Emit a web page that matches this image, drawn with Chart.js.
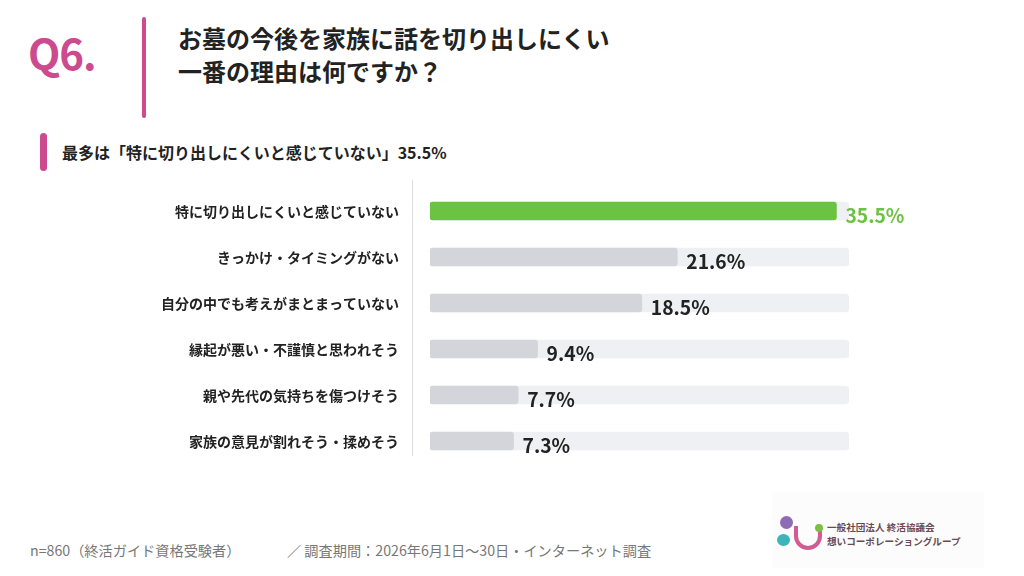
<!DOCTYPE html>
<html lang="ja">
<head>
<meta charset="UTF-8" />
<title>Q6</title>
<script src="https://cdn.jsdelivr.net/npm/chart.js"></script>
<style>
  body { margin: 0; width: 1024px; height: 576px; background: #fff; position: relative; overflow: hidden;
         font-family: "Noto Sans CJK JP", "Noto Sans", sans-serif; color: #222; }
  .abs { position: absolute; }
  #q { left: 28px; top: 22px; font-size: 42px; font-weight: 700; color: #cc4a8e; letter-spacing: -1px; line-height: 60px; }
  #qbar { left: 142px; top: 17px; width: 4px; height: 101px; background: #cc4a8e; border-radius: 2px; }
  #title { left: 178px; top: 21px; font-size: 24px; font-weight: 700; line-height: 33px; color: #222; }
  #subbar { left: 40px; top: 133px; width: 7px; height: 38px; background: #cc4a8e; border-radius: 4px; }
  #sub { left: 62px; top: 140px; font-size: 16px; font-weight: 700; line-height: 24px; }
  #axis { left: 412px; top: 180px; width: 1px; height: 276px; background: #dcdcdc; }
  #myChart { left: 150px; top: 188px; }
  #foot1 { left: 30px; top: 540px; font-size: 14.2px; color: #777; }
  #foot2 { left: 287px; top: 540px; font-size: 14.2px; color: #777; }
  #logo { left: 772px; top: 492px; width: 212px; height: 76px; background: #fcfcfc; }
  .dot { position: absolute; border-radius: 50%; }
  #ltext { left: 827px; top: 520px; font-size: 9.6px; font-weight: 700; line-height: 14px; color: #6a4a52; }
</style>
</head>
<body>
<div id="logo" class="abs"></div>
<div id="q" class="abs">Q6.</div>
<div id="qbar" class="abs"></div>
<div id="title" class="abs">お墓の今後を家族に話を切り出しにくい<br>一番の理由は何ですか？</div>
<div id="subbar" class="abs"></div>
<div id="sub" class="abs">最多は「特に切り出しにくいと感じていない」35.5%</div>
<div id="axis" class="abs"></div>
<canvas id="myChart" class="abs" width="779" height="276"></canvas>
<div id="foot1" class="abs">n=860（終活ガイド資格受験者）</div>
<div id="foot2" class="abs">／ 調査期間：2026年6月1日〜30日・インターネット調査</div>
<div class="dot" style="left:780px;top:516px;width:13px;height:13px;background:#8e6bb5"></div>
<div class="dot" style="left:777px;top:534px;width:13px;height:12px;background:#3cb5b8"></div>
<div class="abs" style="left:794px;top:526px;width:20px;height:20px;border:4px solid #d55a94;border-top:none;border-radius:0 0 14px 14px;"></div>
<div class="dot" style="left:815px;top:524px;width:8px;height:8px;background:#7ac143"></div>
<div id="ltext" class="abs">一般社団法人 終活協議会<br>想いコーポレーショングループ</div>

<script>
  // 設問の選択肢と割合(%)
  const categories = [
    "特に切り出しにくいと感じていない",
    "きっかけ・タイミングがない",
    "自分の中でも考えがまとまっていない",
    "縁起が悪い・不謹慎と思われそう",
    "親や先代の気持ちを傷つけそう",
    "家族の意見が割れそう・揉めそう",
  ];
  const values = [35.5, 21.6, 18.5, 9.4, 7.7, 7.3];
  const trackMax = 36.6; // 背景トラックの長さ

  const GREEN = "#6cc241";
  const GRAY = "#d3d5da";
  const TRACK = "#eef0f3";
  const FONT = "'Noto Sans CJK JP', sans-serif";

  // カテゴリ名と値ラベル
  const labelsPlugin = {
    id: "labelsPlugin",
    afterDatasetsDraw(chart) {
      const ctx = chart.ctx;
      const meta = chart.getDatasetMeta(1);
      const left = chart.chartArea.left;
      ctx.save();
      ctx.textBaseline = "middle";
      meta.data.forEach((bar, i) => {
        // カテゴリ名
        ctx.font = "700 14px " + FONT;
        ctx.textAlign = "right";
        ctx.fillStyle = "#222";
        ctx.fillText(categories[i], left - 31, bar.y + 1);
        // 値
        ctx.font = (i === 0 ? "600" : "700") + " 19.3px " + FONT;
        ctx.textAlign = "left";
        ctx.fillStyle = i === 0 ? GREEN : "#222";
        ctx.fillText(values[i].toFixed(1) + "%", bar.x + 9, bar.y + 5);
      });
      ctx.restore();
    },
  };

  new Chart(document.getElementById("myChart"), {
    type: "bar",
    data: {
      labels: categories,
      datasets: [
        {
          data: categories.map(() => trackMax),
          backgroundColor: TRACK,
          barThickness: 18,
          borderRadius: 4,
          borderSkipped: false,
          grouped: false,
          order: 2,
        },
        {
          data: values,
          backgroundColor: values.map((v, i) => (i === 0 ? GREEN : GRAY)),
          barThickness: 18,
          borderRadius: 3,
          borderSkipped: false,
          grouped: false,
          order: 1,
        },
      ],
    },
    options: {
      indexAxis: "y",
      responsive: false,
      animation: false,
      layout: { padding: { left: 280, right: 80, top: 0, bottom: 0 } },
      plugins: { legend: { display: false }, tooltip: { enabled: false } },
      scales: {
        x: { display: false, min: 0, max: trackMax },
        y: { display: false },
      },
    },
    plugins: [labelsPlugin],
  });
</script>
</body>
</html>
